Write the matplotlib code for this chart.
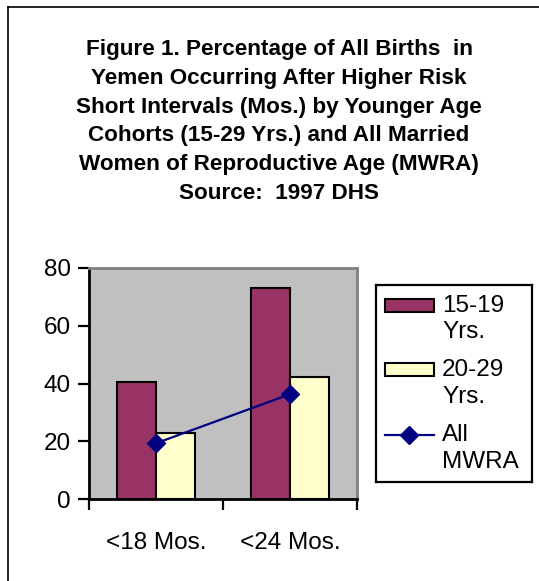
import matplotlib
matplotlib.use("Agg")
import matplotlib.pyplot as plt
from matplotlib.lines import Line2D
from matplotlib.patches import Rectangle
import numpy as np

plt.rcParams['font.family'] = ['Liberation Sans', 'DejaVu Sans']

categories = ["<18 Mos.", "<24 Mos."]
series_names = ["15-19\nYrs.", "20-29\nYrs.", "All\nMWRA"]
young_15_19 = [40.4, 73.0]
young_20_29 = [22.8, 42.4]
all_mwra = [19.3, 36.3]
yticks = [0, 20, 40, 60, 80]
title_lines = [
    "Figure 1. Percentage of All Births  in",
    "Yemen Occurring After Higher Risk",
    "Short Intervals (Mos.) by Younger Age",
    "Cohorts (15-29 Yrs.) and All Married",
    "Women of Reproductive Age (MWRA)",
    "Source:  1997 DHS",
]

W, H = 539, 581
fig = plt.figure(figsize=(W / 100, H / 100), dpi=100)
fig.patch.set_facecolor("white")

def fx(px):
    return px / W

def fy(py):
    return 1 - py / H

# outer frame (left & top visible)
fig.add_artist(Line2D([fx(8), fx(8)], [fy(7), fy(H + 5)], color="black", lw=1.2, transform=fig.transFigure))
fig.add_artist(Line2D([fx(8), fx(W + 5)], [fy(7), fy(7)], color="black", lw=1.2, transform=fig.transFigure))

# title
for i, line in enumerate(title_lines):
    fig.text(fx(279), fy(49.5 + i * 28.8), line, ha="center", va="center",
             fontsize=16.2, fontweight="bold", color="black")

maroon = "#993366"
cream = "#FFFFCC"
navy = "#000080"

ax = fig.add_axes([fx(89), fy(499), fx(357) - fx(89), fy(268) - fy(499)])
ax.set_facecolor("#C0C0C0")
x = np.arange(len(categories))
bw = 0.288
ax.bar(x - bw / 2, young_15_19, width=bw, color=maroon, edgecolor="black", linewidth=1.5, zorder=2)
ax.bar(x + bw / 2, young_20_29, width=bw, color=cream, edgecolor="black", linewidth=1.5, zorder=2)
ax.plot(x, all_mwra, color=navy, lw=1.6, marker="D", markersize=9, markerfacecolor=navy,
        markeredgecolor=navy, zorder=3, clip_on=False)

ax.set_xlim(-0.5, 1.5)
ax.set_ylim(0, 80)
ax.set_yticks(yticks)
ax.tick_params(axis="y", direction="out", length=8, width=1.6, labelsize=17.5, pad=5)
ax.set_xticks([-0.5, 0.5, 1.5])
ax.set_xticklabels([])
ax.tick_params(axis="x", which="major", direction="out", length=8, width=1.6)
ax.set_xticks(x, minor=True)
ax.set_xticklabels(categories, minor=True)
ax.tick_params(axis="x", which="minor", length=0, labelsize=17.5, pad=24)

for s in ["left", "bottom"]:
    ax.spines[s].set_color("black")
    ax.spines[s].set_linewidth(2)
for s in ["top", "right"]:
    ax.spines[s].set_color("#808080")
    ax.spines[s].set_linewidth(2)

# legend box
lx0, lx1, ly0, ly1 = 376, 532, 285, 482
lax = fig.add_axes([fx(lx0), fy(ly1), fx(lx1) - fx(lx0), fy(ly0) - fy(ly1)])
lax.set_xlim(0, lx1 - lx0)
lax.set_ylim(ly1 - ly0, 0)
lax.set_xticks([])
lax.set_yticks([])
for s in lax.spines.values():
    s.set_color("black")
    s.set_linewidth(1.6)
lax.set_facecolor("white")

lax.add_patch(Rectangle((9, 14), 49, 13, facecolor=maroon, edgecolor="black", lw=1.5))
lax.add_patch(Rectangle((9, 78), 49, 13, facecolor=cream, edgecolor="black", lw=1.5))
lax.plot([9, 58], [150, 150], color=navy, lw=1.6)
lax.plot([33.5], [150], marker="D", color=navy, markersize=9)
text_y = [(21, 47), (85, 112), (150, 177)]
for name, (y1, y2) in zip(series_names, text_y):
    a, b = name.split("\n")
    lax.text(66, y1, a, ha="left", va="center", fontsize=17.5)
    lax.text(66, y2, b, ha="left", va="center", fontsize=17.5)

fig.savefig("out.png", dpi=100)
